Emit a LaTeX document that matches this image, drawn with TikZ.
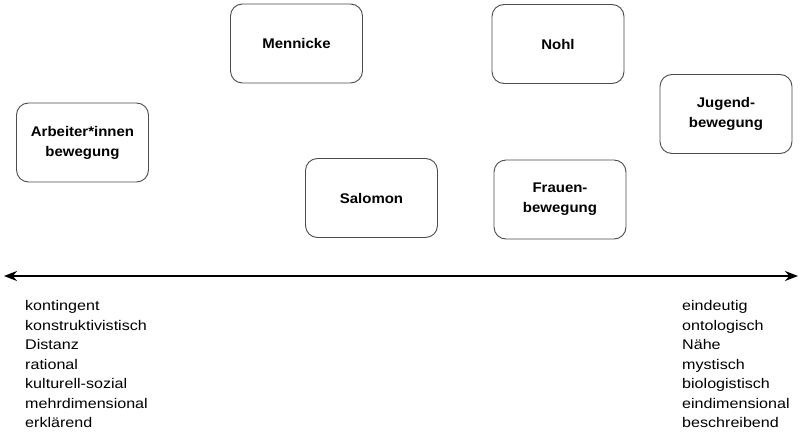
\documentclass[tikz,border=0pt]{standalone}
\usepackage{fontspec}
\setmainfont{Liberation Sans}
\newfontfamily\boxfont[FakeStretch=1.07]{Liberation Sans}
\newfontfamily\listfont[FakeStretch=1.15]{Liberation Sans}
\usepackage{tikz}
\usetikzlibrary{arrows.meta,positioning}

\begin{document}
\begin{tikzpicture}[
        x=1pt,y=-1pt,
        >=Stealth,
        actor/.style={rectangle,rounded corners=12pt,draw=black!70,line width=0.9pt,fill=white,minimum width=132pt,minimum height=79pt,align=center,font=\boxfont\bfseries\fontsize{14}{20}\selectfont},
        poles/.style={anchor=north west,inner sep=0pt,align=left,font=\listfont\fontsize{14}{19.5}\selectfont},
        axis/.style={line width=2pt}
    ]
        \useasboundingbox (0,0) rectangle (801,433);

        \node[actor] (arbeiter) at (82.5,142.5) {Arbeiter*innen\\bewegung};
        \node[actor] (mennicke) at (296.5,43.5) {Mennicke};
        \node[actor] (salomon) at (371.5,198) {Salomon};
        \node[actor] (nohl) at (558,44) {Nohl};
        \node[actor] (frauen) at (560,199.5) {Frauen-\\bewegung};
        \node[actor] (jugend) at (726,114) {Jugend-\\bewegung};

        \coordinate (left) at (4,276);
        \coordinate (right) at (798,276);
        \draw[axis,{Stealth[length=13pt,width=10pt]}-{Stealth[length=13pt,width=10pt]}] (left) -- (right);

        \node[poles] (links) at (25,300.5) {kontingent\\konstruktivistisch\\Distanz\\rational\\kulturell-sozial\\mehrdimensional\\erklärend};
        \node[poles] (rechts) at (682,300.5) {eindeutig\\ontologisch\\Nähe\\mystisch\\biologistisch\\eindimensional\\beschreibend};
    \end{tikzpicture}
\end{document}
